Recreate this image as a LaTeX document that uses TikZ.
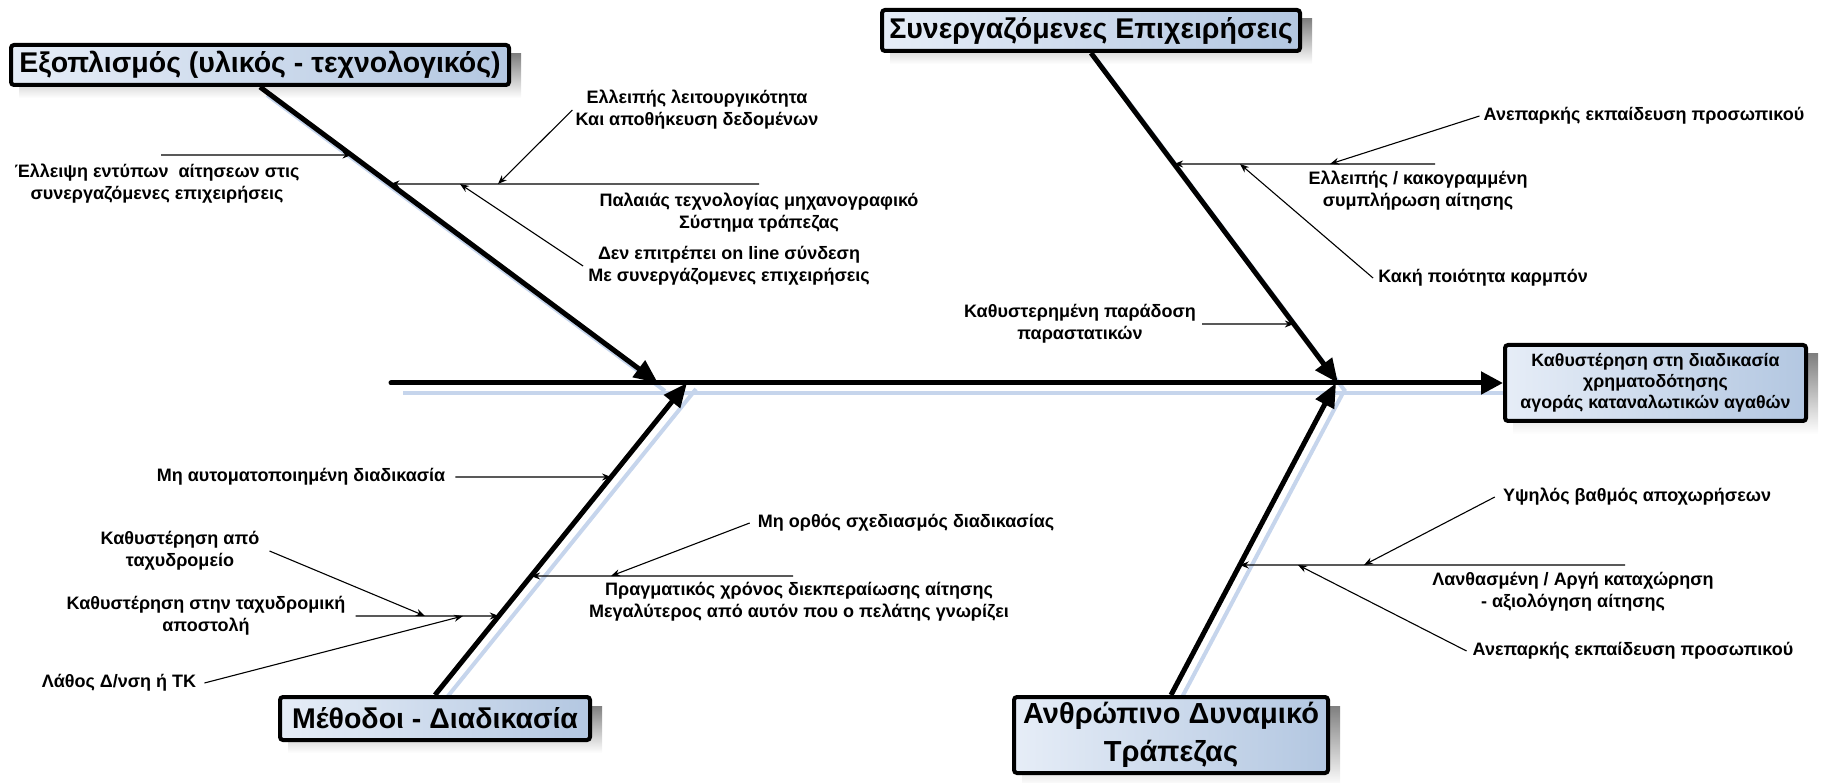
\documentclass[tikz,border=0pt]{standalone}
\usepackage{fontspec}
\setmainfont{Liberation Sans}
\usetikzlibrary{arrows.meta,intersections,calc}
\definecolor{boxL}{HTML}{E6EDF7}
\definecolor{boxR}{HTML}{B3C7E1}
\definecolor{shade}{HTML}{C6D5EC}
\pgfdeclarelayer{bg}
\pgfsetlayers{bg,main}
\begin{document}
\begin{tikzpicture}[x=1pt,y=-1pt,
  catbox/.style={draw=black,line width=4pt,rounded corners=3pt,left color=boxL,right color=boxR,
    font=\bfseries\fontsize{28.5}{34}\selectfont,align=center,inner sep=0pt},
  lbl/.style={font=\bfseries\fontsize{18}{22}\selectfont,align=center,inner sep=0pt},
  bone/.style={line width=5pt,-{Triangle[length=24pt,width=20pt]}},
  twig/.style={line width=1.1pt,-{Stealth[length=9pt,width=7pt]}},
  shadowline/.style={line width=4pt,draw=shade}]
\useasboundingbox (0,0) rectangle (1829,783);

% category boxes and effect box
\node[catbox,minimum width=498pt,minimum height=40pt] (box1) at (260,65) {Εξοπλισμός (υλικός - τεχνολογικός)};
\node[catbox,minimum width=418pt,minimum height=41pt] (box2) at (1091,30.5) {Συνεργαζόμενες Επιχειρήσεις};
\node[catbox,minimum width=310pt,minimum height=43pt] (box3) at (435,718.5) {Μέθοδοι - Διαδικασία};
\node[catbox,minimum width=314pt,minimum height=76pt,font=\bfseries\fontsize{29}{38}\selectfont] (box4) at (1171,735) {Ανθρώπινο Δυναμικό\\Τράπεζας};
\node[catbox,minimum width=301pt,minimum height=76pt,font=\bfseries\fontsize{17.8}{21}\selectfont] (eff) at (1655.5,383) {Καθυστέρηση στη διαδικασία\\χρηματοδότησης\\αγοράς καταναλωτικών αγαθών};

% spine and bone tips
\coordinate (tail) at (391,383);
\coordinate (e1) at (658,383);
\coordinate (e2) at (1338,383);
\coordinate (e3) at (687,383);
\coordinate (e4) at (1336,383);

\draw[line width=5pt,line cap=round,-{Triangle[length=22pt,width=22pt]}] (tail) -- (eff.west);
\draw[bone] (box1.south) -- (e1);
\draw[bone] (box2.south) -- (e2);
\draw[bone] (box3.north) -- (e3);
\draw[bone] (box4.north) -- (e4);

\path[name path=bone1] (box1.south) -- (e1);
\path[name path=bone2] (box2.south) -- (e2);
\path[name path=bone3] (box3.north) -- (e3);
\path[name path=bone4] (box4.north) -- (e4);

% shadows
\begin{pgfonlayer}{bg}
  \foreach \b in {box1,box2,box3,box4,eff}
    \fill[shade] ([shift={(10,11)}]\b.south west) rectangle ([shift={(10,11)}]\b.north east);
  \draw[shadowline] ([shift={(12,10)}]tail) -- ([shift={(0,10)}]eff.west);
  \draw[shadowline] ([shift={(7,8)}]box1.south) -- ([shift={(7,8)}]e1);
  \draw[shadowline] ([shift={(7,8)}]box2.south) -- ([shift={(7,8)}]e2);
  \draw[shadowline] ([shift={(9,6)}]box3.north) -- ([shift={(9,6)}]e3);
  \draw[shadowline] ([shift={(9,6)}]box4.north) -- ([shift={(9,6)}]e4);
\end{pgfonlayer}

% ---- equipment causes
\node[lbl] (tE1) at (157,184) {Έλλειψη εντύπων~ αίτησεων στις\\συνεργαζόμενες επιχειρήσεις};
\node[lbl] (tE2) at (697,110) {Ελλειπής λειτουργικότητα\\Και αποθήκευση δεδομένων};
\node[lbl] (tE3) at (759,213) {Παλαιάς τεχνολογίας μηχανογραφικό\\Σύστημα τράπεζας};
\node[lbl] (tE4) at (729,266) {Δεν επιτρέπει on line σύνδεση\\Με συνεργάζομενες επιχειρήσεις};

\coordinate (q1) at (161,155);
\coordinate (h1) at (759,184);
\path[name path=r1] (q1) -- +(400,0);
\path[name path=r2] (h1) -- +(-500,0);
\path[name intersections={of=bone1 and r1,by=b1}];
\path[name intersections={of=bone1 and r2,by=b2}];
\draw[twig] (q1) -- (b1);
\draw[twig] (h1) -- (b2);
\draw[twig] ([xshift=-3pt]tE2.west) -- (498,0 |- h1);
\draw[twig] ([xshift=-5pt]tE4.west) -- (460,0 |- h1);

% ---- partner causes
\node[lbl] (tP1) at (1644,116) {Ανεπαρκής εκπαίδευση προσωπικού};
\node[lbl] (tP2) at (1418,191) {Ελλειπής / κακογραμμένη\\συμπλήρωση αίτησης};
\node[lbl] (tP3) at (1483,278) {Κακή ποιότητα καρμπόν};
\node[lbl] (tP4) at (1080,324) {Καθυστερημένη παράδοση\\παραστατικών};

\coordinate (h2) at (1435,164);
\path[name path=r3] (h2) -- +(-400,0);
\path[name intersections={of=bone2 and r3,by=b3}];
\draw[twig] (h2) -- (b3);
\draw[twig] ([xshift=-4pt]tP1.west) -- (1330,0 |- h2);
\draw[twig] ([xshift=-5pt]tP3.west) -- (1240,0 |- h2);
\coordinate (q4) at ([xshift=6pt]tP4.east);
\path[name path=r4] (q4) -- +(300,0);
\path[name intersections={of=bone2 and r4,by=b4}];
\draw[twig] (q4) -- (b4);

% ---- method causes
\node[lbl] (tM1) at (301,477) {Μη αυτοματοποιημένη διαδικασία};
\node[lbl] (tM2) at (906,523) {Μη ορθός σχεδιασμός διαδικασίας};
\node[lbl] (tM3) at (799,602) {Πραγματικός χρόνος διεκπεραίωσης αίτησης\\Μεγαλύτερος από αυτόν που ο πελάτης γνωρίζει};
\node[lbl] (tM4) at (180,551) {Καθυστέρηση από\\ταχυδρομείο};
\node[lbl] (tM5) at (206,616) {Καθυστέρηση στην ταχυδρομική\\αποστολή};
\node[lbl] (tM6) at (119,683) {Λάθος Δ/νση ή ΤΚ};

\coordinate (q5) at ([xshift=10pt]tM1.east);
\path[name path=r5] (q5) -- +(300,0);
\path[name intersections={of=bone3 and r5,by=b5}];
\draw[twig] (q5) -- (b5);
\coordinate (h3) at (793,576);
\path[name path=r6] (h3) -- +(-400,0);
\path[name intersections={of=bone3 and r6,by=b6}];
\draw[twig] (h3) -- (b6);
\draw[twig] ([xshift=-8pt]tM2.west) -- (611,0 |- h3);
\coordinate (q7) at ([xshift=10pt]tM5.east);
\path[name path=r7] (q7) -- +(300,0);
\path[name intersections={of=bone3 and r7,by=b7}];
\draw[twig] (q7) -- (b7);
\draw[twig] ([xshift=10pt]tM4.east) -- (425,0 |- q7);
\draw[twig] ([xshift=8pt]tM6.east) -- (463,0 |- q7);

% ---- staff causes
\node[lbl] (tH1) at (1637,497) {Υψηλός βαθμός αποχωρήσεων};
\node[lbl] (tH2) at (1573,592) {Λανθασμένη / Αργή καταχώρηση\\- αξιολόγηση αίτησης};
\node[lbl] (tH3) at (1633,651) {Ανεπαρκής εκπαίδευση προσωπικού};

\coordinate (h5) at (1625,565);
\path[name path=r8] (h5) -- +(-500,0);
\path[name intersections={of=bone4 and r8,by=b8}];
\draw[twig] (h5) -- (b8);
\draw[twig] ([xshift=-8pt]tH1.west) -- (1364,0 |- h5);
\draw[twig] ([xshift=-6pt]tH3.west) -- (1298,0 |- h5);
\end{tikzpicture}
\end{document}
